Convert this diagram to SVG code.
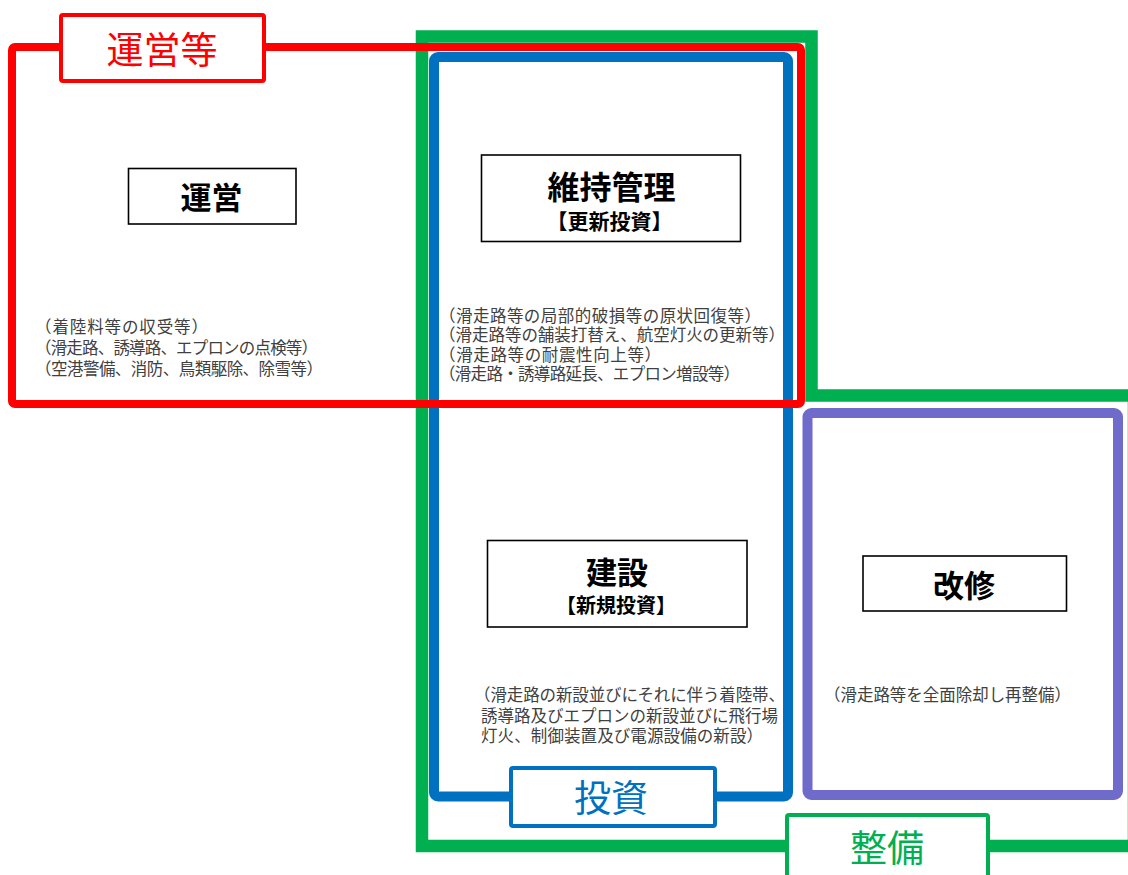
<svg xmlns="http://www.w3.org/2000/svg" width="1128" height="875" viewBox="0 0 1128 875">
<style>
.frame{fill:none}
.lbl{fill:#fff;stroke-width:4}
.node{fill:#fff;stroke:#000;stroke-width:1.6}
.h{font-family:"Noto Sans CJK JP","Noto Sans CJK SC",sans-serif;font-weight:700;fill:#000;text-anchor:middle}
.lt{font-family:"Noto Sans CJK JP","Noto Sans CJK SC",sans-serif;font-size:37px;text-anchor:middle}
.b{font-family:"Liberation Sans","Noto Sans CJK JP","Noto Sans CJK SC",sans-serif;font-size:16.5px;fill:#404040}
</style>
<rect width="1128" height="875" fill="#fff"/>
<g id="frame-seibi">
<path class="frame" d="M422,36.5 H811.5 V395.5 H1134 V846 H422 Z" stroke="#00B050" stroke-width="12.5" stroke-linejoin="miter"/>
</g>
<g id="frame-toshi">
<rect class="frame" x="434" y="57" width="354" height="739.5" rx="4" stroke="#0070C0" stroke-width="10"/>
</g>
<g id="frame-kaishu">
<rect class="frame" x="807.5" y="413" width="310.5" height="382" rx="4" stroke="#6E6BCB" stroke-width="10"/>
</g>
<g id="frame-uneito">
<rect class="frame" x="12" y="47" width="789" height="357" rx="3" stroke="#FF0000" stroke-width="8"/>
</g>
<g id="label-uneito">
<rect class="lbl" x="61" y="15" width="203" height="66" rx="2" stroke="#FF0000"/>
<text class="lt" x="162" y="64" fill="#FF0000">運営等</text>
</g>
<g id="label-toshi">
<rect class="lbl" x="511" y="768" width="204" height="58" rx="2" stroke="#0070C0"/>
<text class="lt" x="611" y="812" fill="#0070C0">投資</text>
</g>
<g id="label-seibi">
<rect class="lbl" x="787" y="815" width="201" height="70" rx="2" stroke="#00B050"/>
<text class="lt" x="887" y="862" fill="#00B050">整備</text>
</g>
<g id="node-unei">
<rect class="node" x="128.5" y="168.5" width="167.5" height="55.5"/>
<text class="h" x="211.5" y="209" font-size="31">運営</text>
</g>
<g id="node-iji">
<rect class="node" x="481.5" y="155" width="259" height="86.5"/>
<text class="h" x="611.5" y="198.5" font-size="32">維持管理</text>
<text class="h" x="609.5" y="228.5" font-size="21">【更新投資】</text>
</g>
<g id="node-kensetsu">
<rect class="node" x="487.5" y="540.5" width="259.5" height="86.5"/>
<text class="h" x="617" y="583.5" font-size="31">建設</text>
<text class="h" x="616" y="613" font-size="20">【新規投資】</text>
</g>
<g id="node-kaishu">
<rect class="node" x="863" y="556" width="203.5" height="55"/>
<text class="h" x="964" y="597" font-size="31">改修</text>
</g>
<g id="text-unei">
<text class="b" x="35" y="333" textLength="173" lengthAdjust="spacing">（着陸料等の収受等）</text>
<text class="b" x="35" y="354" textLength="283" lengthAdjust="spacing">（滑走路、誘導路、エプロンの点検等）</text>
<text class="b" x="35" y="375" textLength="288" lengthAdjust="spacing">（空港警備、消防、鳥類駆除、除雪等）</text>
</g>
<g id="text-iji">
<text class="b" x="439" y="321.5" textLength="322" lengthAdjust="spacing">（滑走路等の局部的破損等の原状回復等）</text>
<text class="b" x="439" y="341" textLength="346" lengthAdjust="spacing">（滑走路等の舗装打替え、航空灯火の更新等）</text>
<text class="b" x="439" y="360.5" textLength="222" lengthAdjust="spacing">（滑走路等の耐震性向上等）</text>
<text class="b" x="439" y="380" textLength="301" lengthAdjust="spacing">（滑走路・誘導路延長、エプロン増設等）</text>
</g>
<g id="text-kensetsu">
<text class="b" x="474" y="701" textLength="311" lengthAdjust="spacing">（滑走路の新設並びにそれに伴う着陸帯、</text>
<text class="b" x="481" y="721.5" textLength="297" lengthAdjust="spacing">誘導路及びエプロンの新設並びに飛行場</text>
<text class="b" x="481" y="742" textLength="282" lengthAdjust="spacing">灯火、制御装置及び電源設備の新設）</text>
</g>
<g id="text-kaishu">
<text class="b" x="824" y="701" textLength="247" lengthAdjust="spacing">（滑走路等を全面除却し再整備）</text>
</g>
<g id="connectors"></g>
</svg>
